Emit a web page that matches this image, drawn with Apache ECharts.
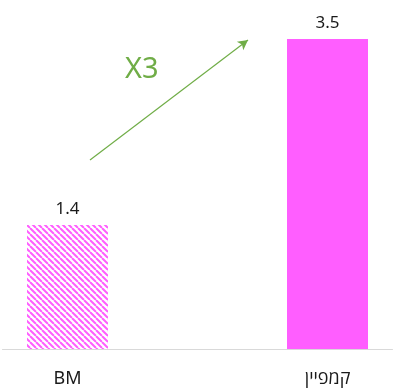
<!DOCTYPE html>
<html>
<head>
<meta charset="utf-8">
<script src="https://cdn.jsdelivr.net/npm/echarts@6/dist/echarts.min.js"></script>
<style>
  html, body { margin: 0; padding: 0; background: #fff; }
  #chart { width: 395px; height: 389px; }
</style>
</head>
<body>
<div id="chart"></div>
<script>
// Chart data
const categories = ['BM', 'קמפיין'];
const values = [1.4, 3.5];
const ratioLabel = 'X3';

const FONT = "'Noto Sans', 'Open Sans', 'DejaVu Sans', sans-serif";
const MAGENTA = '#ff5eff';
const GREEN = '#70ad47';

// Diagonal hatch fill for the baseline bar
function hatchPattern() {
  const size = 6;
  const c = document.createElement('canvas');
  c.width = size; c.height = size;
  const g = c.getContext('2d');
  g.fillStyle = '#ffffff';
  g.fillRect(0, 0, size, size);
  g.strokeStyle = MAGENTA;
  g.lineWidth = 2;
  g.beginPath();
  for (let k = -1; k <= 1; k++) {
    g.moveTo(k * size, 0);
    g.lineTo(k * size + size, size);
  }
  g.stroke();
  return { image: c, repeat: 'repeat' };
}

// A blank slot between the two bars spaces them apart
const axisData = [categories[0], '', categories[1]];
const barData = [
  { value: values[0], itemStyle: { color: hatchPattern() } },
  '-',
  { value: values[1], itemStyle: { color: MAGENTA } }
];

const chart = echarts.init(document.getElementById('chart'), null, { renderer: 'canvas' });
chart.setOption({
  animation: false,
  textStyle: { fontFamily: FONT },
  grid: { left: 2.5, right: 2.5, top: 39, bottom: 40, containLabel: false },
  xAxis: {
    type: 'category',
    data: axisData,
    axisLine: { show: true, lineStyle: { color: '#d9d9d9', width: 1 } },
    axisTick: { show: false },
    axisLabel: { color: '#1a1a1a', fontSize: 18, margin: 21, fontFamily: FONT, interval: 0 }
  },
  yAxis: {
    type: 'value',
    min: 0,
    max: 3.5,
    show: false,
    splitLine: { show: false }
  },
  series: [{
    type: 'bar',
    data: barData,
    barWidth: 81,
    label: {
      show: true,
      position: 'top',
      distance: 7,
      color: '#1a1a1a',
      fontSize: 17,
      fontFamily: FONT,
      formatter: p => p.value.toFixed(1)
    },
    markLine: {
      silent: true,
      symbol: ['none', 'arrow'],
      symbolSize: [8, 10],
      lineStyle: { color: GREEN, width: 1.2, type: 'solid' },
      label: { show: false },
      data: [[{ x: 90, y: 160 }, { x: 248, y: 40 }]]
    }
  }],
  graphic: [{
    type: 'text',
    left: 125,
    top: 55,
    style: {
      text: ratioLabel,
      fill: GREEN,
      font: "29px 'Noto Sans', 'Open Sans', sans-serif"
    }
  }]
});
</script>
</body>
</html>
